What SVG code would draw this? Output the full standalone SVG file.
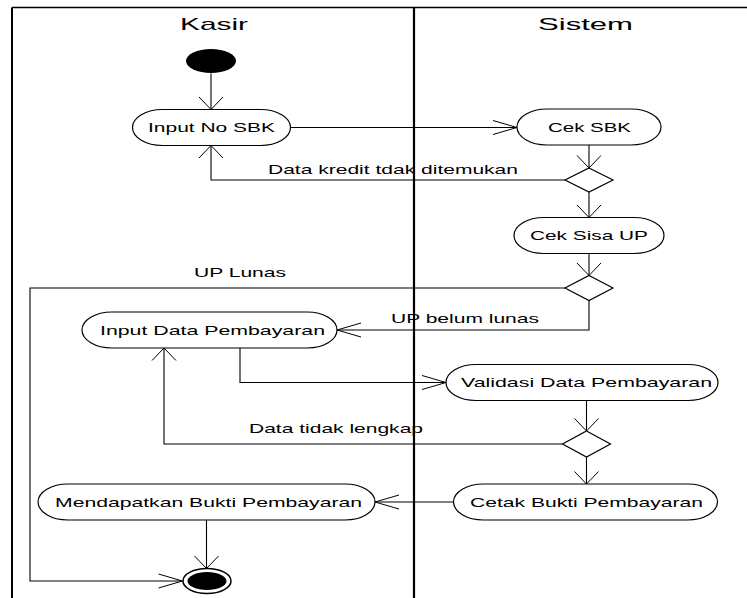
<svg xmlns="http://www.w3.org/2000/svg" width="747" height="598" viewBox="0 0 747 598">
<style>
.lane{stroke:#000;fill:none}
.node{fill:#fff;stroke:#000;stroke-width:1.2}
.dec{fill:#fff;stroke:#000;stroke-width:1.2}
.conn{fill:none;stroke:#000;stroke-width:1.1}
.hd{font-family:"Liberation Sans",Arial,sans-serif;font-size:17px;fill:#000}
.lb{font-family:"Liberation Sans",Arial,sans-serif;font-size:13px;fill:#000}
</style>
<defs>
<marker id="ah" markerUnits="userSpaceOnUse" orient="auto" refX="0" refY="0" markerWidth="30" markerHeight="30" overflow="visible">
<path d="M-24,-7 L0,0 L-24,7" fill="none" stroke="#000" stroke-width="1"/>
</marker>
<marker id="av" markerUnits="userSpaceOnUse" orient="auto" refX="0" refY="0" markerWidth="30" markerHeight="30" overflow="visible">
<path d="M-12.5,-12 L0,0 L-12.5,12" fill="none" stroke="#000" stroke-width="1"/>
</marker>
</defs>
<rect width="747" height="598" fill="#fff"/>
<g id="swimlanes">
<line class="lane" x1="12" y1="7.5" x2="747" y2="7.5" stroke-width="1.6"/>
<line class="lane" x1="12" y1="7.5" x2="12" y2="598" stroke-width="2"/>
<line class="lane" x1="414" y1="7.5" x2="414" y2="598" stroke-width="2.2"/>
<text class="hd" x="180" y="30" textLength="68" lengthAdjust="spacingAndGlyphs">Kasir</text>
<text class="hd" x="538" y="30" textLength="95" lengthAdjust="spacingAndGlyphs">Sistem</text>
</g>
<g id="connectors">
<path class="conn" d="M211,73.5 V109.5" marker-end="url(#av)"/>
<path class="conn" d="M290.5,127.5 H517" marker-end="url(#ah)"/>
<path class="conn" d="M589,145 V168" marker-end="url(#av)"/>
<path class="conn" d="M565,180 H211 V145.5" marker-end="url(#av)"/>
<path class="conn" d="M589,192 V217.5" marker-end="url(#av)"/>
<path class="conn" d="M589,253.5 V275.5" marker-end="url(#av)"/>
<path class="conn" d="M565,288 H30 V581 H182.5" marker-end="url(#ah)"/>
<path class="conn" d="M589,300.5 V330 H337" marker-end="url(#ah)"/>
<path class="conn" d="M240,348 V382.5 H446" marker-end="url(#ah)"/>
<path class="conn" d="M586.5,400.5 V431" marker-end="url(#av)"/>
<path class="conn" d="M562.5,444 H164 V348" marker-end="url(#av)"/>
<path class="conn" d="M586.5,457 V484" marker-end="url(#av)"/>
<path class="conn" d="M453.5,502 H375" marker-end="url(#ah)"/>
<path class="conn" d="M206.5,520 V568.5" marker-end="url(#av)"/>
<text class="lb" x="268" y="173.5" textLength="250" lengthAdjust="spacingAndGlyphs">Data kredit tdak ditemukan</text>
<text class="lb" x="194" y="277" textLength="92" lengthAdjust="spacingAndGlyphs">UP Lunas</text>
<text class="lb" x="391" y="323" textLength="148" lengthAdjust="spacingAndGlyphs">UP belum lunas</text>
<text class="lb" x="249" y="433" textLength="174" lengthAdjust="spacingAndGlyphs">Data tidak lengkap</text>
</g>
<g id="start">
<ellipse cx="211" cy="61" rx="25" ry="12" fill="#000"/>
</g>
<g id="inputNoSBK">
<rect class="node" x="132.5" y="109.5" width="158" height="36" rx="30" ry="18"/>
<text class="lb" x="148" y="132" textLength="127" lengthAdjust="spacingAndGlyphs">Input No SBK</text>
</g>
<g id="cekSBK">
<rect class="node" x="517" y="109" width="144" height="36" rx="30" ry="18"/>
<text class="lb" x="548" y="131.5" textLength="83" lengthAdjust="spacingAndGlyphs">Cek SBK</text>
</g>
<g id="decision1">
<polygon class="dec" points="589,168 613,180 589,192 565,180"/>
</g>
<g id="cekSisaUP">
<rect class="node" x="514" y="217.5" width="150" height="36" rx="30" ry="18"/>
<text class="lb" x="530" y="240" textLength="118" lengthAdjust="spacingAndGlyphs">Cek Sisa UP</text>
</g>
<g id="decision2">
<polygon class="dec" points="589,275.5 613,288 589,300.5 565,288"/>
</g>
<g id="inputDataPembayaran">
<rect class="node" x="82" y="312" width="255" height="36" rx="30" ry="18"/>
<text class="lb" x="100" y="334.5" textLength="225" lengthAdjust="spacingAndGlyphs">Input Data Pembayaran</text>
</g>
<g id="validasiDataPembayaran">
<rect class="node" x="446" y="364.5" width="272" height="36" rx="30" ry="18"/>
<text class="lb" x="461" y="387" textLength="251" lengthAdjust="spacingAndGlyphs">Validasi Data Pembayaran</text>
</g>
<g id="decision3">
<polygon class="dec" points="586.5,431 610.5,444 586.5,457 562.5,444"/>
</g>
<g id="cetakBuktiPembayaran">
<rect class="node" x="453.5" y="484" width="264" height="36" rx="30" ry="18"/>
<text class="lb" x="470" y="507" textLength="233" lengthAdjust="spacingAndGlyphs">Cetak Bukti Pembayaran</text>
</g>
<g id="mendapatkanBuktiPembayaran">
<rect class="node" x="38" y="484" width="337" height="36" rx="30" ry="18"/>
<text class="lb" x="55" y="506.5" textLength="307" lengthAdjust="spacingAndGlyphs">Mendapatkan Bukti Pembayaran</text>
</g>
<g id="end">
<ellipse cx="207" cy="581" rx="24" ry="12.5" fill="#fff" stroke="#000" stroke-width="1.5"/>
<ellipse cx="207" cy="581" rx="19.5" ry="9" fill="#000"/>
</g>
</svg>
